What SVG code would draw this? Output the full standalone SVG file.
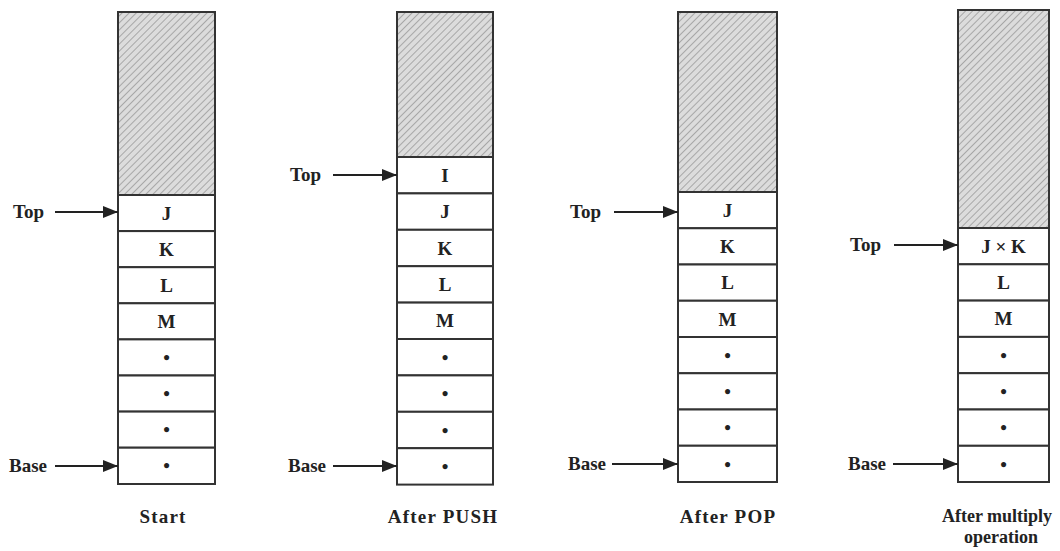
<svg xmlns="http://www.w3.org/2000/svg" width="1060" height="551" viewBox="0 0 1060 551">
<defs>
<pattern id="hatch" patternUnits="userSpaceOnUse" width="5" height="5" patternTransform="rotate(45)">
<rect width="5" height="5" fill="#dcdcdc"/>
<line x1="0" y1="0" x2="0" y2="5" stroke="#9a9a9a" stroke-width="1.6"/>
</pattern>
<marker id="arr" markerWidth="15" markerHeight="12" refX="15" refY="6" orient="auto" markerUnits="userSpaceOnUse">
<path d="M0,0 L15,6 L0,12 Z" fill="#222"/>
</marker>
</defs>
<style>
.hat{fill:url(#hatch);stroke:#333;stroke-width:2}
.cell{fill:#fff;stroke:#333;stroke-width:2}
.t{font-family:"Liberation Serif",serif;font-weight:bold;font-size:19px;fill:#222;text-anchor:middle}
.lbl{font-family:"Liberation Serif",serif;font-weight:bold;font-size:19px;fill:#222}
.cap{font-family:"Liberation Serif",serif;font-weight:bold;font-size:19px;letter-spacing:1.2px;fill:#222;text-anchor:middle}
.cap2{font-family:"Liberation Serif",serif;font-weight:bold;font-size:18px;fill:#222;text-anchor:middle}
.con{stroke:#222;stroke-width:2;fill:none;marker-end:url(#arr)}
</style>
<rect width="1060" height="551" fill="#fff"/>

<g id="stack-start">
<rect class="hat" x="118" y="12" width="97" height="183"/>
<rect class="cell" x="118" y="195" width="97" height="36.1"/>
<rect class="cell" x="118" y="231.1" width="97" height="36.1"/>
<rect class="cell" x="118" y="267.2" width="97" height="36.1"/>
<rect class="cell" x="118" y="303.3" width="97" height="36.1"/>
<rect class="cell" x="118" y="339.4" width="97" height="36.1"/>
<rect class="cell" x="118" y="375.5" width="97" height="36.1"/>
<rect class="cell" x="118" y="411.6" width="97" height="36.1"/>
<rect class="cell" x="118" y="447.7" width="97" height="36.3"/>
<text class="t" x="166.5" y="220">J</text>
<text class="t" x="166.5" y="256">K</text>
<text class="t" x="166.5" y="292">L</text>
<text class="t" x="166.5" y="328">M</text>
<text class="t" x="166.5" y="364">•</text>
<text class="t" x="166.5" y="400">•</text>
<text class="t" x="166.5" y="436">•</text>
<text class="t" x="166.5" y="472">•</text>
<text class="lbl" x="13" y="218">Top</text>
<text class="lbl" x="9" y="472">Base</text>
<text class="cap" x="163" y="523">Start</text>
</g>

<g id="stack-push">
<rect class="hat" x="397" y="12" width="96" height="145"/>
<rect class="cell" x="397" y="157" width="96" height="36.4"/>
<rect class="cell" x="397" y="193.4" width="96" height="36.4"/>
<rect class="cell" x="397" y="229.8" width="96" height="36.4"/>
<rect class="cell" x="397" y="266.2" width="96" height="36.4"/>
<rect class="cell" x="397" y="302.6" width="96" height="36.4"/>
<rect class="cell" x="397" y="339" width="96" height="36.4"/>
<rect class="cell" x="397" y="375.4" width="96" height="36.4"/>
<rect class="cell" x="397" y="411.8" width="96" height="36.4"/>
<rect class="cell" x="397" y="448.2" width="96" height="36.4"/>
<text class="t" x="445" y="182">I</text>
<text class="t" x="445" y="218">J</text>
<text class="t" x="445" y="255">K</text>
<text class="t" x="445" y="291">L</text>
<text class="t" x="445" y="327">M</text>
<text class="t" x="445" y="364">•</text>
<text class="t" x="445" y="400">•</text>
<text class="t" x="445" y="437">•</text>
<text class="t" x="445" y="473">•</text>
<text class="lbl" x="290" y="181">Top</text>
<text class="lbl" x="288" y="472">Base</text>
<text class="cap" x="443" y="523">After PUSH</text>
</g>

<g id="stack-pop">
<rect class="hat" x="678" y="12" width="99" height="180"/>
<rect class="cell" x="678" y="192" width="99" height="36.25"/>
<rect class="cell" x="678" y="228.25" width="99" height="36.25"/>
<rect class="cell" x="678" y="264.5" width="99" height="36.25"/>
<rect class="cell" x="678" y="300.75" width="99" height="36.25"/>
<rect class="cell" x="678" y="337" width="99" height="36.25"/>
<rect class="cell" x="678" y="373.25" width="99" height="36.25"/>
<rect class="cell" x="678" y="409.5" width="99" height="36.25"/>
<rect class="cell" x="678" y="445.75" width="99" height="36.25"/>
<text class="t" x="727.5" y="217">J</text>
<text class="t" x="727.5" y="253">K</text>
<text class="t" x="727.5" y="289">L</text>
<text class="t" x="727.5" y="326">M</text>
<text class="t" x="727.5" y="362">•</text>
<text class="t" x="727.5" y="398">•</text>
<text class="t" x="727.5" y="434">•</text>
<text class="t" x="727.5" y="471">•</text>
<text class="lbl" x="570" y="218">Top</text>
<text class="lbl" x="568" y="470">Base</text>
<text class="cap" x="728" y="523">After POP</text>
</g>

<g id="stack-multiply">
<rect class="hat" x="958" y="10" width="91" height="218"/>
<rect class="cell" x="958" y="228" width="91" height="36.3"/>
<rect class="cell" x="958" y="264.3" width="91" height="36.3"/>
<rect class="cell" x="958" y="300.6" width="91" height="36.3"/>
<rect class="cell" x="958" y="336.9" width="91" height="36.3"/>
<rect class="cell" x="958" y="373.2" width="91" height="36.3"/>
<rect class="cell" x="958" y="409.5" width="91" height="36.3"/>
<rect class="cell" x="958" y="445.8" width="91" height="36.2"/>
<text class="t" x="1003.5" y="253">J × K</text>
<text class="t" x="1003.5" y="289">L</text>
<text class="t" x="1003.5" y="325">M</text>
<text class="t" x="1003.5" y="362">•</text>
<text class="t" x="1003.5" y="398">•</text>
<text class="t" x="1003.5" y="434">•</text>
<text class="t" x="1003.5" y="471">•</text>
<text class="lbl" x="850" y="251">Top</text>
<text class="lbl" x="848" y="470">Base</text>
<text class="cap2" x="997" y="522">After multiply</text>
<text class="cap2" x="1001" y="543">operation</text>
</g>

<g id="connectors">
<line class="con" x1="55" y1="212" x2="118" y2="212"/>
<line class="con" x1="55" y1="466" x2="118" y2="466"/>
<line class="con" x1="333" y1="175" x2="397" y2="175"/>
<line class="con" x1="333" y1="466" x2="397" y2="466"/>
<line class="con" x1="614" y1="212" x2="678" y2="212"/>
<line class="con" x1="612" y1="464" x2="678" y2="464"/>
<line class="con" x1="894" y1="245" x2="958" y2="245"/>
<line class="con" x1="893" y1="464" x2="958" y2="464"/>
</g>
</svg>
